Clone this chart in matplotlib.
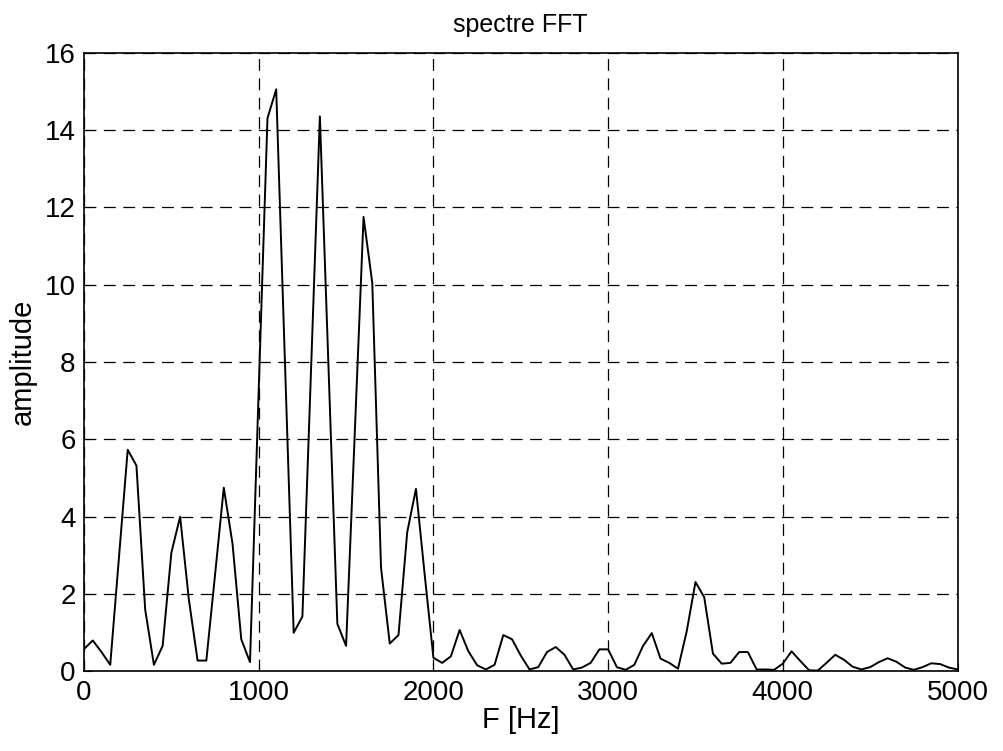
import numpy as np
import matplotlib
matplotlib.use("Agg")
import matplotlib.pyplot as plt

plt.rcParams["font.family"] = ["Liberation Sans", "DejaVu Sans"]

# FFT bins, 50 Hz apart (0 .. 5000 Hz)
step_hz = 50
amplitude = [
    0.58, 0.80, 0.50, 0.17, 2.95, 5.73, 5.32, 1.60, 0.17, 0.66,   # 0-450
    3.07, 4.00, 1.86, 0.28, 0.28, 2.50, 4.75, 3.30, 0.83, 0.24,   # 500-950
    7.30, 14.30, 15.05, 8.00, 1.00, 1.42, 7.87, 14.35, 7.78, 1.23,  # 1000-1450
    0.66, 6.19, 11.75, 10.04, 2.68, 0.72, 0.94, 3.60, 4.72, 2.50,  # 1500-1950
    0.35, 0.22, 0.39, 1.07, 0.52, 0.16, 0.05, 0.17, 0.94, 0.83,   # 2000-2450
    0.41, 0.05, 0.11, 0.50, 0.63, 0.43, 0.05, 0.10, 0.22, 0.57,   # 2500-2950
    0.57, 0.11, 0.04, 0.17, 0.66, 0.99, 0.33, 0.22, 0.07, 1.04,   # 3000-3450
    2.31, 1.92, 0.46, 0.20, 0.22, 0.50, 0.50, 0.05, 0.05, 0.04,   # 3500-3950
    0.20, 0.52, 0.27, 0.03, 0.02, 0.22, 0.43, 0.30, 0.12, 0.05,   # 4000-4450
    0.11, 0.24, 0.34, 0.25, 0.10, 0.04, 0.11, 0.21, 0.19, 0.10,   # 4500-4950
    0.05,                                                         # 5000
]
freq = np.arange(len(amplitude)) * step_hz

x_ticks = [0, 1000, 2000, 3000, 4000, 5000]
y_ticks = [0, 2, 4, 6, 8, 10, 12, 14, 16]

FS = 20
fig = plt.figure(figsize=(10.04, 7.51), dpi=100)
ax = fig.add_axes([0.0837, 0.106, 0.870, 0.824])
ax.plot(freq, amplitude, color="black", lw=1.4)

ax.set_xlim(0, 5000)
ax.set_ylim(0, 16)
ax.set_xticks(x_ticks)
ax.set_yticks(y_ticks)
ax.tick_params(direction="in", length=6, labelsize=FS, pad=6)
ax.grid(True, color="black", ls=(0, (9.5, 6)), lw=0.9)
for s in ax.spines.values():
    s.set_linewidth(1.2)

ax.set_title("spectre FFT", fontsize=18, pad=15)
ax.set_xlabel("F [Hz]", fontsize=21, labelpad=0)
ax.set_ylabel("amplitude", fontsize=21, labelpad=6)

fig.savefig("out.png", dpi=100)
